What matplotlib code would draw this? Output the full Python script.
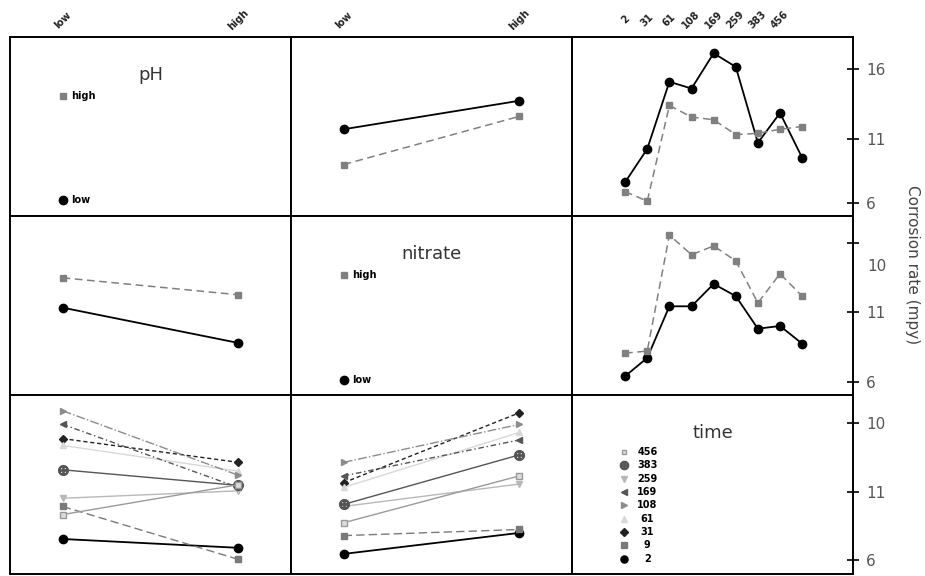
import matplotlib
matplotlib.use("Agg")
import matplotlib.pyplot as plt

# factor levels
two_levels = ["low", "high"]
time_levels = ["2", "9", "31", "61", "108", "169", "259", "383", "456"]
time_ticklabels = ["2", "31", "61", "108", "169", "259", "383", "456"]

# row 1: trace = pH
ph_by_nitrate = {"low": [11.4, 13.5], "high": [8.8, 12.35]}
ph_by_time = {"low": [7.5, 9.95, 14.9, 14.4, 17.0, 16.0, 10.4, 12.6, 9.3],
              "high": [6.8, 6.1, 13.15, 12.3, 12.1, 11.0, 11.1, 11.4, 11.6]}
# row 2: trace = nitrate
nitrate_by_ph = {"low": [11.45, 8.85], "high": [13.65, 12.4]}
nitrate_by_time = {"low": [6.4, 7.75, 11.55, 11.55, 13.2, 12.3, 9.9, 10.1, 8.8],
                   "high": [8.1, 8.25, 16.8, 15.35, 16.0, 14.9, 11.8, 13.95, 12.3]}
# row 3: trace = time
time_by_ph = {"2": [7.6, 6.95], "9": [10.0, 6.1], "31": [15.0, 13.25],
              "61": [14.5, 12.6], "108": [17.05, 12.3], "169": [16.05, 11.4],
              "259": [10.6, 11.15], "383": [12.7, 11.55], "456": [9.4, 11.6]}
time_by_nitrate = {"2": [6.5, 8.05], "9": [7.85, 8.3], "31": [11.75, 16.9],
                   "61": [11.4, 15.45], "108": [13.25, 16.05], "169": [12.25, 14.9],
                   "259": [10.0, 11.65], "383": [10.15, 13.8], "456": [8.8, 12.25]}

# right axis tick marks, as printed
row_ticks = [[15.85, 10.7, 6.0], [16.2, 11.15, 6.0], [16.15, 11.07, 6.05]]
row_ticklabels = [["16", "11", "6"], ["", "11", "6"], ["10", "11", "6"]]

two_styles = {
    "low": dict(color="black", ls="-", marker="o", ms=6, lw=1.3),
    "high": dict(color="#808080", ls=(0, (5, 3)), marker="s", ms=4, lw=1.1),
}
time_styles = {
    "456": dict(color="#9a9a9a", ls="-", marker="s", ms=4, mfc="#dcdcdc"),
    "383": dict(color="#555555", ls="-", marker=r"$\oplus$", ms=7),
    "259": dict(color="#b8b8b8", ls="-", marker="v", ms=5),
    "169": dict(color="#555555", ls=(0, (4, 2, 1, 2)), marker="<", ms=5),
    "108": dict(color="#8c8c8c", ls="-.", marker=">", ms=5),
    "61": dict(color="#d8d8d8", ls="-", marker="^", ms=5),
    "31": dict(color="#222222", ls=(0, (3, 2)), marker="D", ms=4.5),
    "9": dict(color="#7a7a7a", ls=(0, (6, 3)), marker="s", ms=4.5),
    "2": dict(color="black", ls="-", marker="o", ms=6, lw=1.3),
}

fig, axes = plt.subplots(3, 3, figsize=(9.25, 5.76), dpi=100)
fig.subplots_adjust(left=0.0108, right=0.9222, top=0.9358, bottom=0.003,
                    wspace=0, hspace=0)

x2 = [1, 2]
xt = list(range(1, len(time_levels) + 1))


def draw_traces(ax, x, data, styles, lw=1.0):
    for key, vals in data.items():
        st = dict(styles[key])
        st.setdefault("lw", lw)
        ax.plot(x, vals, **st)


def legend_two(ax, title):
    ax.text(0.5, 0.79, title, transform=ax.transAxes, ha="center", va="center",
            fontsize=13, color="#333333")
    ax.plot([1], [13.87], marker="s", color="#808080", ms=4.5, ls="none")
    ax.text(1.05, 13.87, "high", fontsize=7, fontweight="bold", va="center")
    ax.plot([1], [6.15], marker="o", color="black", ms=6, ls="none")
    ax.text(1.05, 6.15, "low", fontsize=7, fontweight="bold", va="center")


draw_traces(axes[0, 1], x2, ph_by_nitrate, two_styles)
draw_traces(axes[0, 2], xt, ph_by_time, two_styles)
draw_traces(axes[1, 0], x2, nitrate_by_ph, two_styles)
draw_traces(axes[1, 2], xt, nitrate_by_time, two_styles)
draw_traces(axes[2, 0], x2, time_by_ph, time_styles)
draw_traces(axes[2, 1], x2, time_by_nitrate, time_styles)

legend_two(axes[0, 0], "pH")
legend_two(axes[1, 1], "nitrate")

ax = axes[2, 2]
ax.text(0.5, 0.79, "time", transform=ax.transAxes, ha="center", va="center",
        fontsize=13, color="#333333")
for i, lev in enumerate(reversed(time_levels)):
    yk = 14.0 - i * 0.98
    st = time_styles[lev]
    ax.plot([0.95], [yk], marker=st["marker"], color=st["color"],
            mfc=st.get("mfc", st["color"]), ms=st["ms"] * 0.85, ls="none")
    ax.text(2.0, yk, lev, fontsize=7, fontweight="bold", ha="center", va="center")

for r in range(3):
    for c in range(3):
        ax = axes[r, c]
        ax.set_ylim(5.0, 18.2)
        if c < 2:
            ax.set_xlim(0.7, 2.3)
        else:
            ax.set_xlim(-1.4, 11.3)
        ax.set_xticks([])
        for s in ax.spines.values():
            s.set_linewidth(1.4)
        if c == 2:
            ax.yaxis.tick_right()
            ax.set_yticks(row_ticks[r])
            ax.set_yticklabels(row_ticklabels[r])
            ax.tick_params(axis="y", direction="inout", length=9, width=1.2,
                           pad=5, labelsize=11, labelcolor="#555555")
        else:
            ax.set_yticks([])

axes[1, 2].annotate("10", xy=(1.0, 14.45), xycoords=("axes fraction", "data"),
                    xytext=(10, 0), textcoords="offset points", fontsize=11,
                    color="#555555", va="center", ha="left")

# top level labels
for c in range(2):
    for xi, lab in zip(x2, two_levels):
        axes[0, c].text(xi, 1.095, lab, transform=axes[0, c].get_xaxis_transform(),
                        rotation=45, ha="center", va="center", fontsize=7,
                        fontweight="bold", color="#222222")
for xi, lab in zip(xt, time_ticklabels):
    axes[0, 2].text(xi, 1.095, lab, transform=axes[0, 2].get_xaxis_transform(),
                    rotation=45, ha="center", va="center", fontsize=7,
                    fontweight="bold", color="#222222")

fig.text(0.986, 0.54, "Corrosion rate (mpy)", rotation=-90, ha="center",
         va="center", fontsize=11, color="#444444")

fig.savefig("out.png", dpi=100)
